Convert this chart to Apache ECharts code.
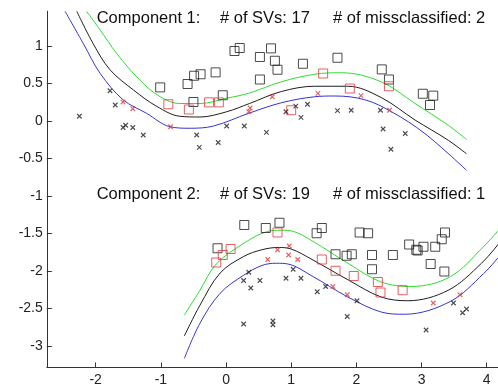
<!DOCTYPE html>
<html>
<head>
<meta charset="utf-8">
<script src="https://cdn.jsdelivr.net/npm/echarts@6/dist/echarts.min.js"></script>
<style>
html,body{margin:0;padding:0;background:#fff;}
#chart{width:498px;height:387px;}
</style>
</head>
<body>
<div id="chart"></div>
<script>
// Axis ticks
const xTicks = [-2, -1, 0, 1, 2, 3, 4];
const yTicks = [-3, -2.5, -2, -1.5, -1, -0.5, 0, 0.5, 1];

// Titles
const title1 = ['Component 1:', '# of SVs: 17', '# of missclassified: 2'];
const title2 = ['Component 2:', '# of SVs: 19', '# of missclassified: 1'];

// Component 1 curves
const c1Green = [[-2.14,1.46],[-1.93,1.21],[-1.68,0.90],[-1.32,0.54],[-1.01,0.32],[-0.71,0.23],[-0.40,0.23],[0.01,0.30],[0.36,0.37],[0.85,0.52],[1.36,0.62],[1.77,0.64],[2.38,0.52],[2.90,0.23],[3.41,-0.06],[3.69,-0.25]];
const c1Black = [[-2.29,1.46],[-2.04,1.03],[-1.78,0.68],[-1.42,0.41],[-1.06,0.19],[-0.71,0.06],[-0.40,0.05],[0.01,0.12],[0.36,0.23],[0.85,0.39],[1.36,0.46],[1.87,0.46],[2.38,0.31],[2.90,0.01],[3.41,-0.26],[3.69,-0.44]];
const c1Blue = [[-2.47,1.46],[-2.19,1.03],[-1.93,0.63],[-1.58,0.28],[-1.22,0.10],[-0.86,-0.08],[-0.55,-0.10],[-0.19,-0.07],[0.35,0.10],[0.85,0.24],[1.36,0.32],[1.67,0.33],[2.13,0.28],[2.54,0.12],[3.05,-0.17],[3.69,-0.66]];

// Component 1 points
const c1SqBlack = [[-1.01,0.445],[-0.59,0.49],[-0.49,0.60],[-0.39,0.62],[-0.16,0.645],[-0.50,0.25],[-0.05,0.34],[0.13,0.93],[0.21,0.97],[0.52,0.85],[0.69,0.965],[0.75,0.80],[0.79,0.68],[0.52,0.55],[1.18,0.76],[1.71,0.84],[2.39,0.685],[2.50,0.55],[3.02,0.36],[3.18,0.335],[3.13,0.21]];
const c1SqRed = [[-0.885,0.22],[-0.57,0.15],[-0.26,0.245],[-0.11,0.245],[1.49,0.63],[1.90,0.43],[2.50,0.46],[1.00,0.14]];
const c1XBlack = [[-2.25,0.06],[-1.78,0.40],[-1.70,0.21],[-1.58,-0.09],[-1.54,-0.06],[-1.43,-0.09],[-1.27,-0.19],[-0.45,-0.19],[-0.41,-0.355],[-0.12,-0.29],[0.01,-0.07],[0.28,-0.07],[0.62,-0.155],[0.92,0.12],[1.07,0.195],[1.25,0.22],[1.15,0.045],[1.71,0.135],[1.92,0.14],[2.37,0.14],[2.41,-0.11],[2.75,-0.17],[2.53,-0.38]];
const c1XRed = [[-1.58,0.25],[-1.43,0.16],[-0.85,-0.08],[0.35,0.12],[0.37,0.17],[0.71,0.32],[1.41,0.365],[2.07,0.335],[2.51,0.14]];

// Component 2 curves
const c2Green = [[-0.64,-2.59],[-0.40,-2.26],[-0.15,-1.91],[0.28,-1.63],[0.62,-1.48],[0.85,-1.46],[1.05,-1.48],[1.32,-1.60],[1.87,-1.90],[2.38,-2.15],[2.84,-2.21],[3.44,-2.08],[3.95,-1.68],[4.22,-1.42]];
const c2Black = [[-0.64,-2.87],[-0.40,-2.46],[-0.09,-2.03],[0.27,-1.81],[0.55,-1.72],[0.80,-1.69],[1.00,-1.71],[1.32,-1.85],[1.87,-2.12],[2.38,-2.35],[2.79,-2.40],[3.41,-2.26],[3.92,-1.90],[4.22,-1.60]];
const c2Blue = [[-0.64,-3.17],[-0.40,-2.70],[-0.09,-2.30],[0.27,-2.06],[0.55,-1.93],[0.77,-1.90],[0.95,-1.91],[1.32,-2.07],[1.87,-2.35],[2.38,-2.55],[2.74,-2.58],[3.44,-2.41],[3.95,-2.04],[4.22,-1.78]];

// Component 2 points
const c2SqBlack = [[-0.13,-1.70],[0.28,-1.39],[0.61,-1.43],[0.82,-1.36],[1.39,-1.50],[1.47,-1.43],[2.05,-1.49],[2.18,-1.50],[1.68,-1.78],[1.85,-1.80],[1.93,-1.78],[2.24,-1.79],[2.56,-1.79],[2.24,-1.98],[2.81,-1.65],[2.92,-1.72],[2.94,-1.73],[3.03,-1.68],[3.21,-1.68],[3.31,-1.58],[3.36,-1.49],[3.14,-1.91],[3.35,-2.01]];
const c2SqRed = [[-0.15,-1.89],[-0.05,-1.79],[0.07,-1.71],[0.79,-1.49],[1.47,-1.85],[1.68,-2.00],[1.96,-2.07],[2.33,-2.15],[2.37,-2.29],[2.71,-2.26]];
const c2XBlack = [[0.35,-2.02],[0.27,-2.13],[0.38,-2.23],[0.52,-2.13],[0.92,-2.10],[1.03,-1.98],[1.15,-2.10],[1.40,-2.28],[1.53,-2.21],[2.01,-2.40],[1.86,-2.61],[0.27,-2.71],[0.72,-2.67],[0.72,-2.72],[3.07,-2.79],[3.49,-2.43],[3.63,-2.56],[3.69,-2.51]];
const c2XRed = [[0.64,-1.85],[0.79,-1.72],[0.97,-1.67],[0.96,-1.79],[1.10,-1.85],[1.64,-2.21],[1.86,-2.32],[3.18,-2.43],[3.59,-2.32]];

const GREEN = '#2fdc2f', BLACK = '#1e1e1e', BLUE = '#3434d2', RED = '#e03a3a';
const FONT = '"Liberation Sans", Arial, Helvetica, sans-serif';
const XPATH = 'path://M0,0L10,10M10,0L0,10';

function lineS(data, color) {
  return { type: 'line', data: data, smooth: 0.35, symbol: 'none', silent: true,
    lineStyle: { color: color, width: 1 }, clip: true, z: 2 };
}
function sqS(data, color) {
  return { type: 'scatter', data: data, symbol: 'rect', symbolSize: 9, silent: true,
    itemStyle: { color: 'rgba(0,0,0,0)', borderColor: color, borderWidth: 1 }, z: 3 };
}
function xS(data, color) {
  return { type: 'scatter', data: data, symbol: XPATH, symbolSize: 4.5, silent: true,
    itemStyle: { color: color, borderColor: color, borderWidth: 1.1 }, z: 3 };
}
function titleTexts(arr, y) {
  const xs = [96.7, 220, 333];
  return arr.map((t, i) => ({ type: 'text', x: xs[i], y: y, silent: true,
    style: { text: t, fontSize: 16.5, fontFamily: FONT, fill: '#111', verticalAlign: 'middle', align: 'left' } }));
}

const chart = echarts.init(document.getElementById('chart'), null, { renderer: 'canvas' });
chart.setOption({
  animation: false,
  backgroundColor: '#fff',
  grid: { left: 46.8, top: 11.25, width: 456.2, height: 356.25, containLabel: false, outerBoundsMode: 'none' },
  xAxis: {
    type: 'value', min: -2.75, max: 4.25,
    axisLine: { show: true, onZero: false, lineStyle: { color: '#333', width: 1 } },
    axisTick: { show: true, inside: true, length: 5, customValues: xTicks, lineStyle: { color: '#333' } },
    axisLabel: { customValues: xTicks, fontSize: 14, color: '#222', margin: 6, fontFamily: FONT },
    splitLine: { show: false }
  },
  yAxis: {
    type: 'value', min: -3.29, max: 1.46,
    axisLine: { show: true, onZero: false, lineStyle: { color: '#333', width: 1 } },
    axisTick: { show: true, inside: true, length: 5, customValues: yTicks, lineStyle: { color: '#333' } },
    axisLabel: { customValues: yTicks, fontSize: 14, color: '#222', margin: 4, fontFamily: FONT },
    splitLine: { show: false }
  },
  graphic: titleTexts(title1, 18.5).concat(titleTexts(title2, 194.5)),
  series: [
    lineS(c1Green, GREEN), lineS(c1Black, BLACK), lineS(c1Blue, BLUE),
    lineS(c2Green, GREEN), lineS(c2Black, BLACK), lineS(c2Blue, BLUE),
    sqS(c1SqBlack, BLACK), sqS(c1SqRed, RED), xS(c1XBlack, BLACK), xS(c1XRed, RED),
    sqS(c2SqBlack, BLACK), sqS(c2SqRed, RED), xS(c2XBlack, BLACK), xS(c2XRed, RED)
  ]
});
</script>
</body>
</html>
